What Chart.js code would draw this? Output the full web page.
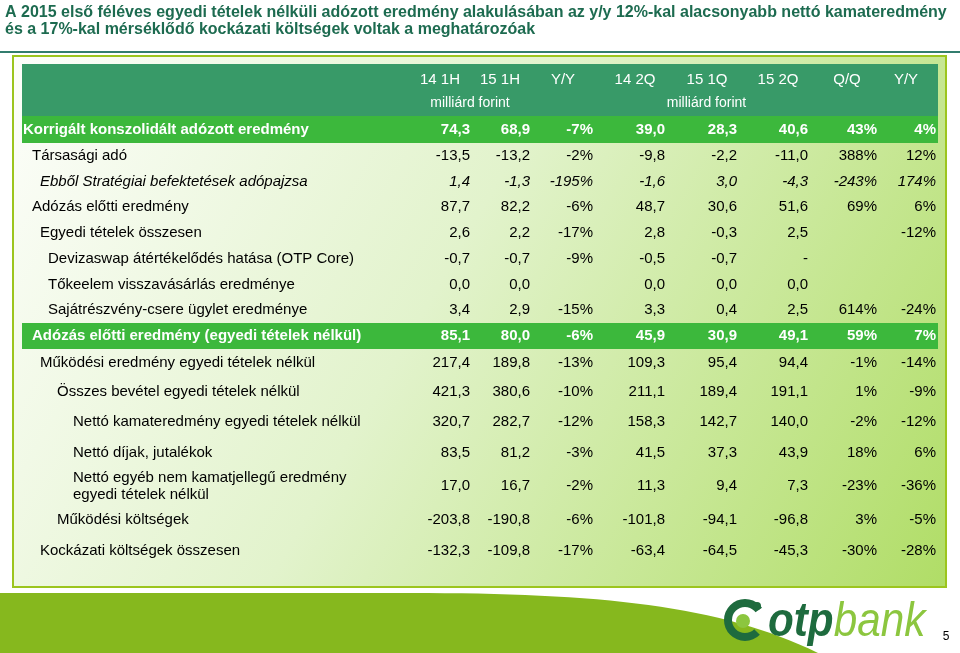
<!DOCTYPE html>
<html lang="hu">
<head>
<meta charset="utf-8">
<title>Egyedi tételek nélküli adózott eredmény</title>
<script src="https://cdn.jsdelivr.net/npm/chart.js@4.4.1/dist/chart.umd.min.js"></script>
<style>
  html, body { margin: 0; padding: 0; background: #fff; }
  canvas { display: block; }
</style>
</head>
<body>
<canvas id="chart" width="960" height="653"></canvas>
<script>
// --- data ---
const titleLines = [
  'A 2015 első féléves egyedi tételek nélküli adózott eredmény alakulásában az y/y 12%-kal alacsonyabb nettó kamateredmény',
  'és a 17%-kal mérséklődő kockázati költségek voltak a meghatározóak'
];
const colLabels = ['14 1H', '15 1H', 'Y/Y', '14 2Q', '15 1Q', '15 2Q', 'Q/Q', 'Y/Y'];
const unitLabel = 'milliárd forint';
const unitGroups = [[0, 1], [3, 5]];
const rowLabels = [
  'Korrigált konszolidált adózott eredmény',
  'Társasági adó',
  'Ebből Stratégiai befektetések adópajzsa',
  'Adózás előtti eredmény',
  'Egyedi tételek összesen',
  'Devizaswap átértékelődés hatása (OTP Core)',
  'Tőkeelem visszavásárlás eredménye',
  'Sajátrészvény-csere ügylet eredménye',
  'Adózás előtti eredmény (egyedi tételek nélkül)',
  'Működési eredmény egyedi tételek nélkül',
  'Összes bevétel egyedi tételek nélkül',
  'Nettó kamateredmény egyedi tételek nélkül',
  'Nettó díjak, jutalékok',
  'Nettó egyéb nem kamatjellegű eredmény\negyedi tételek nélkül',
  'Működési költségek',
  'Kockázati költségek összesen'
];
const h1_2014 = [74.3, -13.5, 1.4, 87.7, 2.6, -0.7, 0.0, 3.4, 85.1, 217.4, 421.3, 320.7, 83.5, 17.0, -203.8, -132.3];
const h1_2015 = [68.9, -13.2, -1.3, 82.2, 2.2, -0.7, 0.0, 2.9, 80.0, 189.8, 380.6, 282.7, 81.2, 16.7, -190.8, -109.8];
const yoyH    = [-7, -2, -195, -6, -17, -9, null, -15, -6, -13, -10, -12, -3, -2, -6, -17];
const q2_2014 = [39.0, -9.8, -1.6, 48.7, 2.8, -0.5, 0.0, 3.3, 45.9, 109.3, 211.1, 158.3, 41.5, 11.3, -101.8, -63.4];
const q1_2015 = [28.3, -2.2, 3.0, 30.6, -0.3, -0.7, 0.0, 0.4, 30.9, 95.4, 189.4, 142.7, 37.3, 9.4, -94.1, -64.5];
const q2_2015 = [40.6, -11.0, -4.3, 51.6, 2.5, '-', 0.0, 2.5, 49.1, 94.4, 191.1, 140.0, 43.9, 7.3, -96.8, -45.3];
const qoq     = [43, 388, -243, 69, null, null, null, 614, 59, -1, 1, -2, 18, -23, 3, -30];
const yoyQ    = [4, 12, 174, 6, -12, null, null, -24, 7, -14, -9, -12, 6, -36, -5, -28];

const columns = [h1_2014, h1_2015, yoyH, q2_2014, q1_2015, q2_2015, qoq, yoyQ];
const pctCols = [false, false, true, false, false, false, true, true];

// --- layout / style ---
const FONT = '"Liberation Sans", Arial, sans-serif';
const headerHeight = 52;
const rowHeights = [27, 26, 25, 26, 26, 26, 25, 26, 26, 28, 30, 30, 32, 34, 33, 30];
const labelColWidth = 448;
const colWidths = [60, 63, 72, 72, 71, 69, 59];
const rowIndent = [1, 10, 18, 10, 18, 26, 26, 26, 10, 18, 35, 51, 51, 51, 35, 18];
const rowStyle = ['band', '', 'italic', '', '', '', '', '', 'band', '', '', '', '', '', '', ''];

const rowTop = [];
rowHeights.reduce((acc, h, i) => { rowTop[i] = acc; return acc + h; }, 0);
const rowMid = rowTop.map((t, i) => t + rowHeights[i] / 2);
const tableHeight = rowHeights.reduce((a, b) => a + b, 0);

const colRight = [];
colWidths.reduce((acc, w, i) => { colRight[i + 1] = acc + w; return acc + w; }, labelColWidth);
colRight[0] = labelColWidth;
const tableWidth = 916;

function fmt(v, pct) {
  if (v === null) return null;
  if (typeof v === 'string') return v;
  return pct ? Math.round(v) + '%' : v.toFixed(1).replace('.', ',');
}

const cells = [];
columns.forEach((col, c) => {
  col.forEach((v, r) => {
    const text = fmt(v, pctCols[c]);
    if (text !== null) cells.push({ x: colRight[c], y: rowMid[r], text, row: r });
  });
});

function fontFor(row, size) {
  const s = rowStyle[row];
  if (s === 'band') return 'bold ' + size + 'px ' + FONT;
  if (s === 'italic') return 'italic ' + size + 'px ' + FONT;
  return size + 'px ' + FONT;
}

const tablePlugin = {
  id: 'tablePlugin',
  beforeDraw(chart) {
    const { ctx } = chart;
    ctx.save();
    ctx.fillStyle = '#fff';
    ctx.fillRect(0, 0, chart.width, chart.height);

    // title
    ctx.fillStyle = '#1d6b50';
    ctx.font = 'bold 16px ' + FONT;
    ctx.textBaseline = 'alphabetic';
    ctx.fillText(titleLines[0], 5, 17);
    ctx.fillText(titleLines[1], 5, 34);

    // rule under the title
    ctx.fillStyle = '#327d6e';
    ctx.fillRect(0, 51, chart.width, 2);

    // frame with light green gradient
    const g = ctx.createLinearGradient(12, 55, 947, 588);
    g.addColorStop(0, '#fdfefb');
    g.addColorStop(0.45, '#e2f3cc');
    g.addColorStop(1, '#b0dd66');
    ctx.fillStyle = g;
    ctx.fillRect(12, 55, 935, 533);
    ctx.strokeStyle = '#9cc51e';
    ctx.lineWidth = 2;
    ctx.strokeRect(13, 56, 933, 531);
    ctx.restore();
  },
  beforeDatasetsDraw(chart) {
    const { ctx, scales: { x, y } } = chart;
    const left = x.getPixelForValue(0);
    const right = x.getPixelForValue(tableWidth);
    ctx.save();
    // header block
    ctx.fillStyle = '#389a68';
    const hTop = y.getPixelForValue(-headerHeight);
    ctx.fillRect(left, hTop, right - left, y.getPixelForValue(0) - hTop);
    // highlighted rows
    ctx.fillStyle = '#3cb83c';
    rowStyle.forEach((s, r) => {
      if (s !== 'band') return;
      const t = y.getPixelForValue(rowTop[r]);
      const b = y.getPixelForValue(rowTop[r] + rowHeights[r]);
      ctx.fillRect(left, t, right - left, b - t);
    });
    ctx.restore();
  },
  afterDatasetsDraw(chart) {
    const { ctx, scales: { x, y } } = chart;
    ctx.save();
    ctx.textBaseline = 'middle';

    // header labels
    ctx.fillStyle = '#fff';
    ctx.textAlign = 'center';
    ctx.font = '15px ' + FONT;
    const headCenter = colRight.map(v => v - 30);
    colLabels.forEach((lab, c) => {
      ctx.fillText(lab, x.getPixelForValue(headCenter[c]), y.getPixelForValue(-36));
    });
    ctx.font = '14px ' + FONT;
    unitGroups.forEach(([a, b]) => {
      const cx = (headCenter[a] + headCenter[b]) / 2;
      ctx.fillText(unitLabel, x.getPixelForValue(cx), y.getPixelForValue(-13));
    });

    // row labels
    ctx.textAlign = 'left';
    rowLabels.forEach((lab, r) => {
      ctx.font = fontFor(r, 15);
      ctx.fillStyle = rowStyle[r] === 'band' ? '#fff' : '#000';
      const lines = lab.split('\n');
      const px = x.getPixelForValue(rowIndent[r]);
      const py = y.getPixelForValue(rowMid[r]);
      lines.forEach((ln, i) => {
        ctx.fillText(ln, px, py + (i - (lines.length - 1) / 2) * 17);
      });
    });

    // cell values at the dataset's points
    ctx.textAlign = 'right';
    const meta = chart.getDatasetMeta(0);
    const data = chart.data.datasets[0].data;
    meta.data.forEach((pt, i) => {
      const d = data[i];
      ctx.font = fontFor(d.row, 15);
      ctx.fillStyle = rowStyle[d.row] === 'band' ? '#fff' : '#000';
      ctx.fillText(d.text, pt.x, pt.y);
    });
    ctx.restore();
  },
  afterDraw(chart) {
    const { ctx } = chart;
    ctx.save();
    // bottom green swoosh
    ctx.fillStyle = '#86b81e';
    ctx.beginPath();
    ctx.moveTo(0, 593);
    ctx.lineTo(410, 593);
    ctx.bezierCurveTo(600, 593, 720, 605, 818, 653);
    ctx.lineTo(0, 653);
    ctx.closePath();
    ctx.fill();

    // logo
    ctx.lineWidth = 8;
    ctx.strokeStyle = '#1e6b3e';
    ctx.beginPath();
    ctx.arc(745, 620, 17, 0.25 * Math.PI, 1.8 * Math.PI);
    ctx.stroke();
    ctx.fillStyle = '#8cc63f';
    ctx.beginPath();
    ctx.arc(743, 621, 7, 0, 2 * Math.PI);
    ctx.fill();
    ctx.fillStyle = '#1e6b3e';
    ctx.beginPath();
    ctx.arc(757, 606, 4, 0, 2 * Math.PI);
    ctx.fill();

    ctx.save();
    ctx.translate(768, 636);
    ctx.scale(0.88, 1);
    ctx.textBaseline = 'alphabetic';
    ctx.textAlign = 'left';
    ctx.font = 'italic bold 48px ' + FONT;
    ctx.fillStyle = '#1e6b3e';
    ctx.fillText('otp', 0, 0);
    const w = ctx.measureText('otp').width;
    ctx.font = 'italic 48px ' + FONT;
    ctx.fillStyle = '#8cc63f';
    ctx.fillText('bank', w, 0);
    ctx.restore();

    ctx.fillStyle = '#000';
    ctx.font = '12px ' + FONT;
    ctx.textAlign = 'center';
    ctx.textBaseline = 'middle';
    ctx.fillText('5', 946, 637);
    ctx.restore();
  }
};

new Chart(document.getElementById('chart'), {
  type: 'scatter',
  data: {
    datasets: [{
      label: 'értékek',
      data: cells,
      pointRadius: 0,
      pointHoverRadius: 0
    }]
  },
  options: {
    responsive: false,
    animation: false,
    devicePixelRatio: 1,
    layout: { padding: { left: 22, right: 22, top: 64, bottom: 87 } },
    plugins: { legend: { display: false }, tooltip: { enabled: false } },
    scales: {
      x: { type: 'linear', display: false, min: 0, max: tableWidth },
      y: { type: 'linear', display: false, reverse: true, min: -headerHeight, max: tableHeight }
    }
  },
  plugins: [tablePlugin]
});
</script>
</body>
</html>
